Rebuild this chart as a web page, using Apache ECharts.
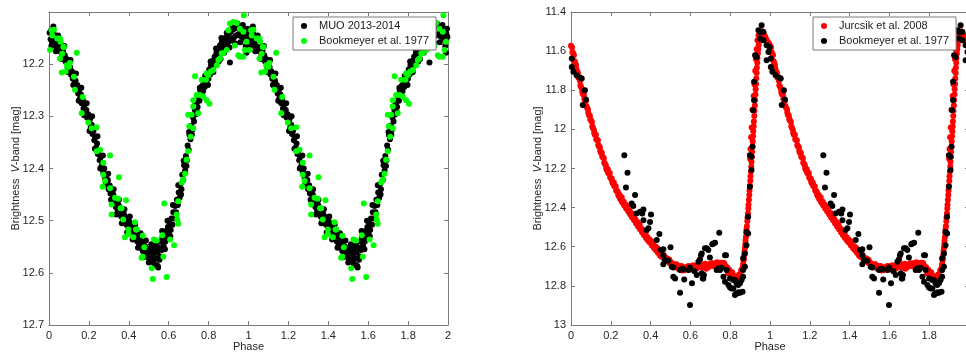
<!DOCTYPE html>
<html><head><meta charset="utf-8">
<script src="https://cdn.jsdelivr.net/npm/echarts@6/dist/echarts.min.js"></script>
<style>html,body{margin:0;padding:0;background:#fff}#c{width:966px;height:353px}</style>
</head><body><div id="c"></div>
<script>
// ---- Left panel: phase-folded V magnitudes (one cycle; plotted for phase and phase+1)
var muoData = [
[0.003,12.140],[0.008,12.152],[0.011,12.135],[0.016,12.158],[0.019,12.147],[0.024,12.142],[0.028,12.160],[0.031,12.152],[0.036,12.166],[0.040,12.150],
[0.044,12.162],[0.048,12.171],[0.053,12.158],[0.057,12.176],[0.061,12.168],[0.066,12.182],[0.070,12.174],[0.074,12.190],[0.079,12.183],[0.083,12.195],
[0.088,12.190],[0.092,12.204],[0.097,12.198],[0.101,12.212],[0.106,12.206],[0.110,12.220],[0.115,12.214],[0.119,12.228],[0.124,12.222],[0.128,12.238],
[0.133,12.232],[0.137,12.247],[0.142,12.240],[0.146,12.256],[0.151,12.250],[0.155,12.266],[0.160,12.258],[0.164,12.275],[0.169,12.268],[0.173,12.285],
[0.178,12.278],[0.182,12.294],[0.187,12.288],[0.191,12.302],[0.196,12.296],[0.200,12.312],[0.205,12.306],[0.209,12.322],[0.214,12.316],[0.218,12.334],
[0.223,12.328],[0.227,12.346],[0.232,12.340],[0.236,12.360],[0.241,12.352],[0.245,12.372],[0.250,12.366],[0.254,12.384],[0.259,12.378],[0.263,12.396],
[0.268,12.390],[0.272,12.408],[0.277,12.400],[0.281,12.418],[0.286,12.412],[0.290,12.428],[0.295,12.422],[0.299,12.440],[0.304,12.432],[0.308,12.448],
[0.313,12.442],[0.317,12.458],[0.322,12.450],[0.326,12.466],[0.331,12.458],[0.335,12.474],[0.340,12.464],[0.344,12.480],[0.349,12.470],[0.353,12.486],
[0.358,12.476],[0.362,12.492],[0.367,12.482],[0.371,12.498],[0.376,12.488],[0.380,12.504],[0.385,12.494],[0.389,12.508],[0.394,12.498],[0.398,12.512],
[0.403,12.502],[0.407,12.516],[0.412,12.506],[0.416,12.522],[0.421,12.512],[0.425,12.528],[0.430,12.518],[0.434,12.534],[0.439,12.524],[0.443,12.540],
[0.448,12.530],[0.452,12.546],[0.457,12.536],[0.461,12.552],[0.466,12.540],[0.470,12.558],[0.475,12.546],[0.479,12.562],[0.484,12.550],[0.488,12.566],
[0.493,12.554],[0.497,12.570],[0.502,12.556],[0.506,12.574],[0.511,12.560],[0.515,12.578],[0.520,12.548],[0.524,12.566],[0.529,12.556],[0.533,12.572],
[0.538,12.585],[0.542,12.560],[0.547,12.590],[0.551,12.552],[0.556,12.568],[0.560,12.540],[0.565,12.556],[0.569,12.532],[0.574,12.548],[0.578,12.526],
[0.583,12.540],[0.587,12.520],[0.592,12.534],[0.596,12.512],[0.601,12.526],[0.605,12.504],[0.610,12.518],[0.614,12.496],[0.619,12.508],[0.623,12.484],
[0.628,12.496],[0.632,12.472],[0.637,12.484],[0.641,12.460],[0.646,12.470],[0.650,12.446],[0.655,12.456],[0.659,12.430],[0.664,12.440],[0.668,12.412],
[0.673,12.422],[0.677,12.394],[0.682,12.404],[0.686,12.376],[0.691,12.384],[0.695,12.356],[0.700,12.364],[0.704,12.336],[0.709,12.344],[0.713,12.318],
[0.718,12.326],[0.722,12.302],[0.727,12.310],[0.731,12.288],[0.736,12.296],[0.740,12.274],[0.745,12.282],[0.749,12.262],[0.754,12.270],[0.758,12.250],
[0.763,12.258],[0.767,12.242],[0.772,12.252],[0.776,12.236],[0.781,12.244],[0.785,12.226],[0.790,12.236],[0.794,12.218],[0.799,12.228],[0.803,12.210],
[0.808,12.220],[0.812,12.202],[0.817,12.212],[0.821,12.194],[0.826,12.204],[0.830,12.186],[0.835,12.196],[0.839,12.178],[0.844,12.190],[0.848,12.170],
[0.853,12.182],[0.857,12.164],[0.862,12.176],[0.866,12.158],[0.871,12.172],[0.875,12.154],[0.880,12.166],[0.884,12.150],[0.889,12.162],[0.893,12.146],
[0.898,12.158],[0.902,12.142],[0.907,12.155],[0.911,12.138],[0.916,12.152],[0.920,12.134],[0.925,12.150],[0.929,12.132],[0.934,12.146],[0.938,12.130],
[0.943,12.144],[0.947,12.128],[0.952,12.142],[0.956,12.130],[0.961,12.146],[0.965,12.132],[0.970,12.148],[0.974,12.136],[0.979,12.150],[0.983,12.138],
[0.988,12.154],[0.992,12.142],[0.997,12.148],[0.907,12.197],[0.990,12.178],[0.860,12.190],[0.545,12.587],
[0.012,12.165],[0.022,12.128],[0.034,12.175],[0.046,12.145],[0.063,12.190],[0.077,12.165],[0.094,12.215],[0.108,12.192],[0.122,12.240],[0.135,12.218],
[0.149,12.270],[0.162,12.245],[0.176,12.298],[0.189,12.275],[0.203,12.328],[0.216,12.300],[0.230,12.362],[0.243,12.338],[0.257,12.400],[0.270,12.375],
[0.284,12.430],[0.297,12.410],[0.311,12.460],[0.324,12.440],[0.338,12.488],[0.351,12.460],[0.365,12.505],[0.378,12.478],[0.392,12.522],[0.405,12.492],
[0.419,12.536],[0.432,12.508],[0.446,12.552],[0.459,12.524],[0.473,12.570],[0.486,12.538],[0.500,12.580],[0.513,12.545],[0.527,12.582],[0.540,12.548],
[0.554,12.575],[0.567,12.520],[0.581,12.555],[0.594,12.500],[0.608,12.530],[0.621,12.470],[0.635,12.495],[0.648,12.432],[0.662,12.450],[0.675,12.385],
[0.689,12.395],[0.702,12.330],[0.716,12.335],[0.729,12.280],[0.743,12.292],[0.756,12.245],[0.770,12.262],[0.783,12.222],[0.797,12.240],[0.810,12.195],
[0.824,12.215],[0.837,12.170],[0.851,12.195],[0.864,12.150],[0.878,12.178],[0.891,12.140],[0.905,12.168],[0.918,12.125],[0.932,12.160],[0.945,12.122],
[0.959,12.158],[0.972,12.125],[0.986,12.165],[0.995,12.132]
];
var bookLeftData = [
[0.005,12.173],[0.013,12.135],[0.025,12.134],[0.055,12.151],[0.072,12.167],[0.139,12.178],[0.055,12.189],[0.089,12.202],[0.105,12.198],[0.064,12.216],
[0.125,12.224],[0.130,12.249],[0.169,12.263],[0.164,12.294],[0.197,12.312],[0.214,12.323],[0.239,12.321],[0.239,12.367],[0.256,12.364],[0.306,12.375],
[0.272,12.389],[0.351,12.417],[0.272,12.412],[0.281,12.424],[0.269,12.435],[0.306,12.438],[0.314,12.469],[0.314,12.488],[0.331,12.456],[0.347,12.458],
[0.359,12.476],[0.386,12.461],[0.372,12.498],[0.398,12.517],[0.398,12.526],[0.381,12.532],[0.423,12.532],[0.431,12.503],[0.436,12.517],[0.470,12.529],
[0.478,12.551],[0.470,12.569],[0.515,12.591],[0.520,12.612],[0.526,12.536],[0.540,12.538],[0.568,12.528],[0.573,12.569],[0.590,12.608],[0.607,12.536],
[0.627,12.547],[0.578,12.467],[0.640,12.488],[0.643,12.498],[0.648,12.506],[0.648,12.463],[0.665,12.427],[0.673,12.421],[0.682,12.410],[0.690,12.383],
[0.698,12.367],[0.710,12.339],[0.703,12.319],[0.723,12.323],[0.698,12.297],[0.715,12.297],[0.723,12.281],[0.748,12.294],[0.723,12.269],[0.740,12.259],
[0.757,12.259],[0.773,12.262],[0.790,12.269],[0.804,12.276],[0.732,12.223],[0.765,12.230],[0.787,12.230],[0.799,12.221],[0.811,12.214],[0.824,12.211],
[0.841,12.202],[0.857,12.189],[0.874,12.179],[0.891,12.173],[0.907,12.122],[0.924,12.119],[0.941,12.121],[0.957,12.132],[0.974,12.138],[0.977,12.106],
[0.957,12.186],[0.949,12.183],[0.990,12.157],[0.899,12.135],[0.016,12.145],[0.041,12.151],[0.058,12.157],[0.075,12.167],[0.066,12.180],[0.100,12.205],
[0.083,12.214],[0.932,12.164],[0.982,12.173],[0.974,12.186],[0.866,12.179],[0.849,12.192],[0.790,12.218],[0.364,12.476],[0.440,12.517],[0.464,12.571]
];
// ---- Right panel
var jurData = [
[0.000,11.573],[0.005,11.580],[0.010,11.611],[0.015,11.620],[0.020,11.657],[0.025,11.670],[0.030,11.704],[0.035,11.711],[0.040,11.738],[0.045,11.752],
[0.050,11.782],[0.055,11.793],[0.060,11.820],[0.065,11.823],[0.070,11.850],[0.075,11.855],[0.080,11.888],[0.085,11.897],[0.090,11.927],[0.095,11.930],
[0.100,11.953],[0.105,11.962],[0.110,11.992],[0.115,12.003],[0.120,12.028],[0.125,12.028],[0.130,12.053],[0.135,12.055],[0.140,12.086],[0.145,12.092],
[0.150,12.120],[0.155,12.120],[0.160,12.141],[0.165,12.147],[0.170,12.175],[0.175,12.183],[0.180,12.208],[0.185,12.204],[0.190,12.225],[0.195,12.223],
[0.200,12.250],[0.205,12.252],[0.210,12.276],[0.215,12.272],[0.220,12.289],[0.225,12.291],[0.230,12.315],[0.235,12.319],[0.240,12.340],[0.245,12.336],
[0.250,12.354],[0.255,12.348],[0.260,12.372],[0.265,12.370],[0.270,12.391],[0.275,12.384],[0.280,12.397],[0.285,12.396],[0.290,12.416],[0.295,12.417],
[0.300,12.435],[0.305,12.427],[0.310,12.445],[0.315,12.440],[0.320,12.463],[0.325,12.462],[0.330,12.482],[0.335,12.475],[0.340,12.489],[0.345,12.487],
[0.350,12.508],[0.355,12.508],[0.360,12.526],[0.365,12.519],[0.370,12.536],[0.375,12.531],[0.380,12.555],[0.385,12.552],[0.390,12.571],[0.395,12.563],
[0.400,12.575],[0.405,12.572],[0.410,12.592],[0.415,12.591],[0.420,12.607],[0.425,12.599],[0.430,12.615],[0.435,12.608],[0.440,12.631],[0.445,12.628],
[0.450,12.647],[0.455,12.636],[0.460,12.646],[0.465,12.642],[0.470,12.659],[0.475,12.656],[0.480,12.671],[0.485,12.660],[0.490,12.675],[0.495,12.666],
[0.500,12.686],[0.505,12.682],[0.510,12.700],[0.515,12.689],[0.520,12.698],[0.525,12.691],[0.530,12.705],[0.535,12.700],[0.540,12.712],[0.545,12.699],
[0.550,12.710],[0.555,12.698],[0.560,12.715],[0.565,12.707],[0.570,12.720],[0.575,12.705],[0.580,12.711],[0.585,12.702],[0.590,12.715],[0.595,12.707],
[0.600,12.716],[0.605,12.700],[0.610,12.709],[0.615,12.695],[0.620,12.710],[0.625,12.700],[0.630,12.712],[0.635,12.696],[0.640,12.701],[0.645,12.692],
[0.650,12.704],[0.655,12.697],[0.660,12.706],[0.665,12.691],[0.670,12.700],[0.675,12.687],[0.680,12.702],[0.685,12.693],[0.690,12.705],[0.695,12.690],
[0.700,12.695],[0.705,12.686],[0.710,12.698],[0.715,12.691],[0.720,12.700],[0.725,12.684],[0.730,12.693],[0.735,12.679],[0.740,12.694],[0.745,12.684],
[0.750,12.696],[0.755,12.682],[0.760,12.689],[0.765,12.682],[0.770,12.699],[0.775,12.697],[0.780,12.713],[0.785,12.705],[0.790,12.723],[0.795,12.717],
[0.800,12.741],[0.805,12.739],[0.810,12.758],[0.815,12.748],[0.820,12.758],[0.825,12.751],[0.830,12.765],[0.835,12.756],[0.840,12.763],[0.845,12.742],
[0.850,12.745],[0.855,12.720],[0.860,12.721],
[0.863,12.705],[0.865,12.690],[0.867,12.672],[0.869,12.660],[0.871,12.640],[0.872,12.622],[0.874,12.605],[0.876,12.585],[0.877,12.568],[0.879,12.550],
[0.881,12.528],[0.882,12.512],[0.884,12.495],[0.886,12.470],[0.887,12.452],[0.889,12.430],[0.891,12.405],[0.892,12.385],[0.894,12.360],[0.896,12.335],
[0.897,12.312],[0.899,12.288],[0.901,12.262],[0.902,12.240],[0.904,12.215],[0.906,12.190],[0.907,12.165],[0.909,12.140],[0.910,12.115],[0.912,12.088],
[0.913,12.062],[0.915,12.035],[0.916,12.010],[0.918,11.985],[0.919,11.960],[0.921,11.932],[0.922,11.905],[0.924,11.878],[0.925,11.850],[0.927,11.822],
[0.928,11.795],[0.930,11.768],[0.931,11.740],[0.933,11.712],[0.934,11.685],[0.936,11.660],[0.937,11.635],[0.939,11.612],[0.941,11.590],[0.943,11.570],
[0.945,11.552],[0.947,11.538],[0.949,11.525],[0.951,11.515],[0.954,11.506],[0.957,11.500],[0.960,11.498],[0.963,11.502],[0.966,11.508],[0.969,11.514],
[0.972,11.520],[0.975,11.527],[0.978,11.533],[0.981,11.540],[0.984,11.546],[0.987,11.552],[0.990,11.557],[0.993,11.561],[0.996,11.563],
[0.900,12.150],[0.902,12.100],[0.905,12.040],[0.908,11.990],[0.912,11.900],[0.918,11.830],[0.922,11.770],[0.926,11.700],[0.929,11.640],[0.933,11.590],
[0.937,11.545],[0.942,11.520],
[0.007,11.605],[0.017,11.650],[0.027,11.690],[0.037,11.735],[0.047,11.775],[0.057,11.812],[0.067,11.845],[0.077,11.880],[0.087,11.915],[0.097,11.950],
[0.107,11.985],[0.117,12.020],[0.127,12.050],[0.137,12.080],[0.147,12.110],[0.157,12.140],[0.167,12.170],[0.177,12.200],[0.187,12.222],[0.197,12.245],
[0.207,12.268],[0.217,12.290],[0.227,12.312],[0.237,12.334],[0.247,12.356],[0.257,12.372],[0.267,12.388],[0.277,12.404],[0.287,12.418],[0.297,12.434],
[0.307,12.450],[0.317,12.465],[0.327,12.480],[0.337,12.496],[0.347,12.510],[0.357,12.526],[0.367,12.541],[0.377,12.555],[0.387,12.568],[0.397,12.580],
[0.407,12.593],[0.417,12.606],[0.427,12.618],[0.437,12.631],[0.447,12.643],[0.457,12.652],[0.467,12.660],[0.477,12.668],[0.487,12.676],[0.497,12.684],
[0.530,12.690],[0.560,12.722],[0.590,12.698],[0.620,12.718],[0.650,12.688],[0.680,12.712],[0.710,12.684],[0.740,12.703],[0.770,12.684],[0.790,12.735],
[0.810,12.730],[0.830,12.772],[0.845,12.758]
];
var bookRightData = [
[0.004,11.638],[0.004,11.681],[0.012,11.706],[0.028,11.723],[0.045,11.735],[0.054,11.740],[0.070,11.800],[0.075,11.847],[0.059,11.876],[0.268,12.132],
[0.284,12.222],[0.276,12.297],[0.322,12.336],[0.305,12.379],[0.313,12.392],[0.330,12.430],[0.347,12.421],[0.358,12.430],[0.364,12.409],[0.364,12.464],
[0.402,12.435],[0.397,12.473],[0.380,12.515],[0.389,12.506],[0.444,12.535],[0.431,12.566],[0.452,12.617],[0.464,12.613],[0.500,12.603],[0.464,12.643],
[0.472,12.668],[0.489,12.672],[0.464,12.689],[0.506,12.702],[0.514,12.706],[0.548,12.719],[0.556,12.714],[0.564,12.714],[0.514,12.753],[0.523,12.762],
[0.548,12.835],[0.569,12.767],[0.598,12.706],[0.590,12.719],[0.608,12.787],[0.598,12.898],[0.620,12.725],[0.640,12.677],[0.648,12.665],[0.653,12.643],
[0.657,12.634],[0.632,12.745],[0.662,12.762],[0.668,12.745],[0.673,12.608],[0.690,12.617],[0.698,12.655],[0.710,12.587],[0.724,12.580],[0.745,12.528],
[0.732,12.719],[0.749,12.719],[0.757,12.707],[0.766,12.753],[0.779,12.643],[0.782,12.719],[0.799,12.762],[0.791,12.796],[0.799,12.808],[0.824,12.770],
[0.832,12.787],[0.816,12.770],[0.840,12.796],[0.849,12.787],[0.857,12.770],[0.865,12.753],[0.824,12.847],[0.836,12.838],[0.849,12.835],[0.862,12.830],
[0.807,12.813],[0.865,12.719],[0.874,12.702],[0.865,12.659],[0.874,12.634],[0.882,12.592],[0.882,12.524],[0.890,12.447],[0.899,12.293],[0.907,12.208],
[0.899,12.132],[0.907,12.140],[0.912,12.089],[0.915,11.902],[0.920,11.851],[0.920,11.757],[0.925,11.621],[0.933,11.630],[0.942,11.493],[0.950,11.502],
[0.958,11.468],[0.967,11.502],[0.950,11.536],[0.967,11.545],[0.983,11.570],[0.998,11.579],[0.992,11.604],[0.983,11.647],[0.682,12.608],[0.715,12.583],
[0.774,12.643],[0.665,12.762],[0.657,12.736],[0.740,12.711],[0.774,12.779],[0.816,12.813],[0.828,12.842],[0.843,12.833],[0.890,12.532]
];
var leftYTicks = {min: 12.1, max: 12.7, step: 0.1};
var rightYTicks = {min: 11.4, max: 13, step: 0.2};
var phaseTicks = {min: 0, max: 2, step: 0.2};

function twoCycles(arr) {
  var out = [];
  [0, 1].forEach(function (k) { arr.forEach(function (d) { out.push([d[0] + k, d[1]]); }); });
  return out;
}

var FONT = 'Arial, "Liberation Sans", Helvetica, sans-serif';
var AX = '#7a7a7a', TX = '#262626';
function xAx(grid, pos, show, hideTwo) {
  return {
    type: 'value', gridIndex: grid, position: pos, min: phaseTicks.min, max: phaseTicks.max, interval: phaseTicks.step,
    axisLine: {show: true, onZero: false, lineStyle: {color: AX, width: 1}},
    axisTick: {show: true, inside: true, length: 4, lineStyle: {color: AX}},
    splitLine: {show: false},
    axisLabel: {show: show, color: TX, fontSize: 11, fontFamily: FONT, margin: 5,
      formatter: function (v) { return (hideTwo && v > 1.999) ? '' : String(+v.toFixed(1)); }},
    name: show ? 'Phase' : '', nameLocation: 'middle', nameGap: 16, nameMoveOverlap: false,
    nameTextStyle: {color: TX, fontSize: 11, fontFamily: FONT}
  };
}
function yAx(grid, pos, show, t, fmt) {
  return {
    type: 'value', gridIndex: grid, position: pos, inverse: true, min: t.min, max: t.max, interval: t.step,
    axisLine: {show: true, onZero: false, lineStyle: {color: AX, width: 1}},
    axisTick: {show: true, inside: true, length: 4, lineStyle: {color: AX}},
    splitLine: {show: false},
    axisLabel: {show: show, color: TX, fontSize: 11, fontFamily: FONT, margin: 5, formatter: fmt},
    name: show ? '{a|Brightness  }{b|V}{a|-band [mag]}' : '', nameLocation: 'middle', nameGap: 28, nameMoveOverlap: false,
    nameTextStyle: {color: TX, fontSize: 11, fontFamily: FONT,
      rich: {a: {fontSize: 11, fontFamily: FONT, color: TX}, b: {fontSize: 11, fontFamily: FONT, color: TX, fontStyle: 'italic'}}}
  };
}
function legendBox(left, names) {
  return {
    left: left, top: 17, orient: 'vertical', data: names,
    icon: 'circle', itemWidth: 20, itemHeight: 6, itemGap: 1,
    padding: [2, 7, 2, 8], borderColor: '#7a7a7a', borderWidth: 1, backgroundColor: '#fff',
    textStyle: {color: '#1a1a1a', fontSize: 11, fontFamily: FONT, lineHeight: 14},
    selectedMode: false
  };
}

var chart = echarts.init(document.getElementById('c'), null, {renderer: 'canvas'});
chart.setOption({
  animation: false,
  backgroundColor: '#fff',
  grid: [
    {left: 49, top: 12, width: 399, height: 313, outerBoundsMode: 'none', containLabel: false},
    {left: 571, top: 12, width: 398, height: 313, outerBoundsMode: 'none', containLabel: false}
  ],
  xAxis: [xAx(0, 'bottom', true, false), xAx(0, 'top', false, false), xAx(1, 'bottom', true, true), xAx(1, 'top', false, true)],
  yAxis: [
    yAx(0, 'left', true, leftYTicks, function (v) { return Math.abs(v - 12.1) < 1e-6 ? '' : v.toFixed(1); }),
    yAx(0, 'right', false, leftYTicks),
    yAx(1, 'left', true, rightYTicks, function (v) { return String(+v.toFixed(1)); }),
    yAx(1, 'right', false, rightYTicks)
  ],
  legend: [
    legendBox(293, ['MUO 2013-2014', 'Bookmeyer et al. 1977']),
    legendBox(813, ['Jurcsik et al. 2008', {name: 'Bookmeyer et al. 1977', itemStyle: {color: '#000000'}}])
  ],
  series: [
    {name: 'MUO 2013-2014', type: 'scatter', xAxisIndex: 0, yAxisIndex: 0, symbol: 'circle', symbolSize: 6,
      itemStyle: {color: '#000000', opacity: 1}, data: twoCycles(muoData)},
    {name: 'Bookmeyer et al. 1977', type: 'scatter', xAxisIndex: 0, yAxisIndex: 0, symbol: 'circle', symbolSize: 6,
      itemStyle: {color: '#00ff00', opacity: 1}, data: twoCycles(bookLeftData)},
    {name: 'Jurcsik et al. 2008', type: 'scatter', xAxisIndex: 2, yAxisIndex: 2, symbol: 'circle', symbolSize: 6,
      itemStyle: {color: '#ff0000', opacity: 1}, data: twoCycles(jurData)},
    {name: 'Bookmeyer et al. 1977', type: 'scatter', xAxisIndex: 2, yAxisIndex: 2, symbol: 'circle', symbolSize: 6,
      itemStyle: {color: '#000000', opacity: 1}, data: twoCycles(bookRightData)}
  ]
});
</script></body></html>
